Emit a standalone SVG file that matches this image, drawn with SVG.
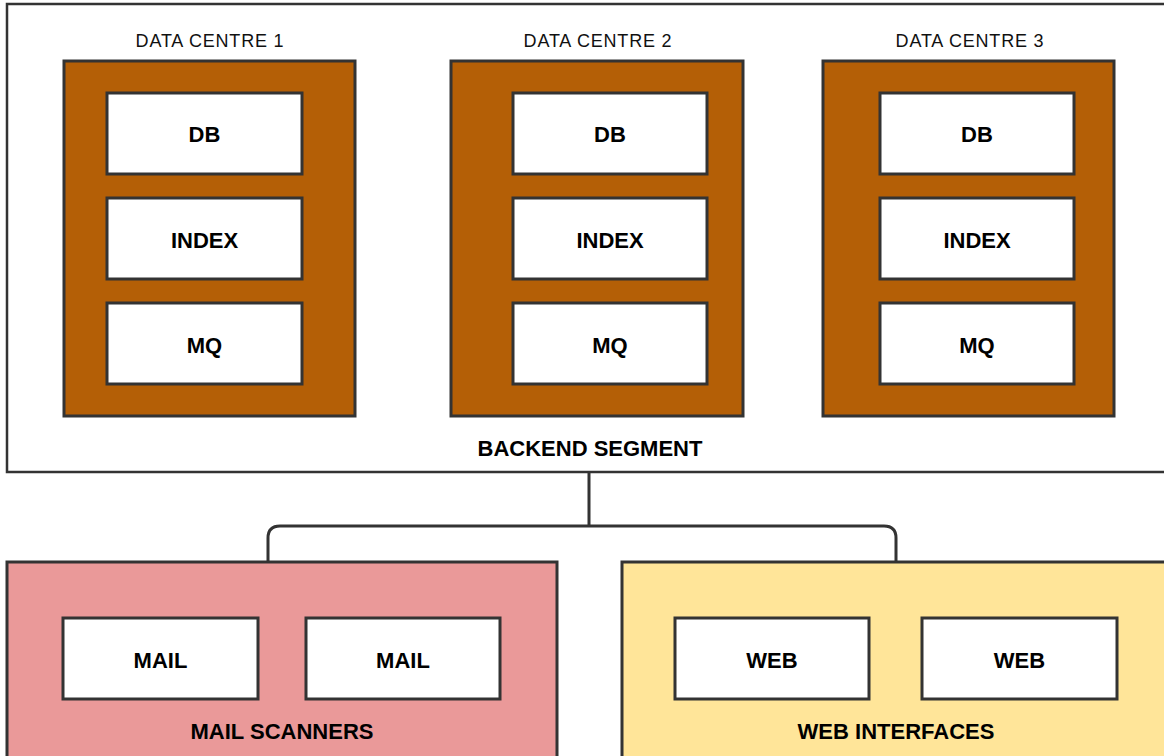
<svg xmlns="http://www.w3.org/2000/svg" width="1164" height="756" viewBox="0 0 1164 756">
<style>
.box{stroke:#333;stroke-width:3}
.out{fill:#fff;stroke:#333;stroke-width:2.5}
.dc{fill:#b45f06}
.w{fill:#fff}
.lb{font-family:"Liberation Sans",Arial,sans-serif;font-weight:bold;font-size:22px;fill:#000;text-anchor:middle}
.dl{font-family:"Liberation Sans",Arial,sans-serif;font-size:18px;letter-spacing:0.8px;fill:#111;text-anchor:middle}
.conn{fill:none;stroke:#333;stroke-width:3}
</style>
<rect width="1164" height="756" fill="#fff"/>
<g id="backend">
<rect class="out" x="7" y="4" width="1170" height="468"/>
<text class="lb" x="590" y="456">BACKEND SEGMENT</text>
</g>
<g id="dc1">
<text class="dl" x="210" y="47">DATA CENTRE 1</text>
<rect class="box dc" x="64" y="61" width="291" height="355"/>
</g>
<g id="dc1-db"><rect class="box w" x="107" y="93" width="195" height="81"/><text class="lb" x="204.5" y="142">DB</text></g>
<g id="dc1-index"><rect class="box w" x="107" y="198" width="195" height="81"/><text class="lb" x="204.5" y="248">INDEX</text></g>
<g id="dc1-mq"><rect class="box w" x="107" y="303" width="195" height="81"/><text class="lb" x="204.5" y="353">MQ</text></g>
<g id="dc2">
<text class="dl" x="598" y="47">DATA CENTRE 2</text>
<rect class="box dc" x="451" y="61" width="292" height="355"/>
</g>
<g id="dc2-db"><rect class="box w" x="513" y="93" width="194" height="81"/><text class="lb" x="610" y="142">DB</text></g>
<g id="dc2-index"><rect class="box w" x="513" y="198" width="194" height="81"/><text class="lb" x="610" y="248">INDEX</text></g>
<g id="dc2-mq"><rect class="box w" x="513" y="303" width="194" height="81"/><text class="lb" x="610" y="353">MQ</text></g>
<g id="dc3">
<text class="dl" x="970" y="47">DATA CENTRE 3</text>
<rect class="box dc" x="823" y="61" width="291" height="355"/>
</g>
<g id="dc3-db"><rect class="box w" x="880" y="93" width="194" height="81"/><text class="lb" x="977" y="142">DB</text></g>
<g id="dc3-index"><rect class="box w" x="880" y="198" width="194" height="81"/><text class="lb" x="977" y="248">INDEX</text></g>
<g id="dc3-mq"><rect class="box w" x="880" y="303" width="194" height="81"/><text class="lb" x="977" y="353">MQ</text></g>
<g id="connectors">
<path class="conn" d="M589 473 V526 M268 562 V538 Q268 526 280 526 H884 Q896 526 896 538 V562"/>
</g>
<g id="mail-scanners">
<rect class="box" fill="#ea9999" x="7" y="562" width="550" height="210"/>
<text class="lb" x="282" y="739">MAIL SCANNERS</text>
</g>
<g id="mail1"><rect class="box w" x="63" y="618" width="195" height="81"/><text class="lb" x="160.5" y="668">MAIL</text></g>
<g id="mail2"><rect class="box w" x="306" y="618" width="194" height="81"/><text class="lb" x="403" y="668">MAIL</text></g>
<g id="web-interfaces">
<rect class="box" fill="#ffe599" x="622" y="562" width="560" height="210"/>
<text class="lb" x="896" y="739">WEB INTERFACES</text>
</g>
<g id="web1"><rect class="box w" x="675" y="618" width="194" height="81"/><text class="lb" x="772" y="668">WEB</text></g>
<g id="web2"><rect class="box w" x="922" y="618" width="195" height="81"/><text class="lb" x="1019.5" y="668">WEB</text></g>
</svg>
